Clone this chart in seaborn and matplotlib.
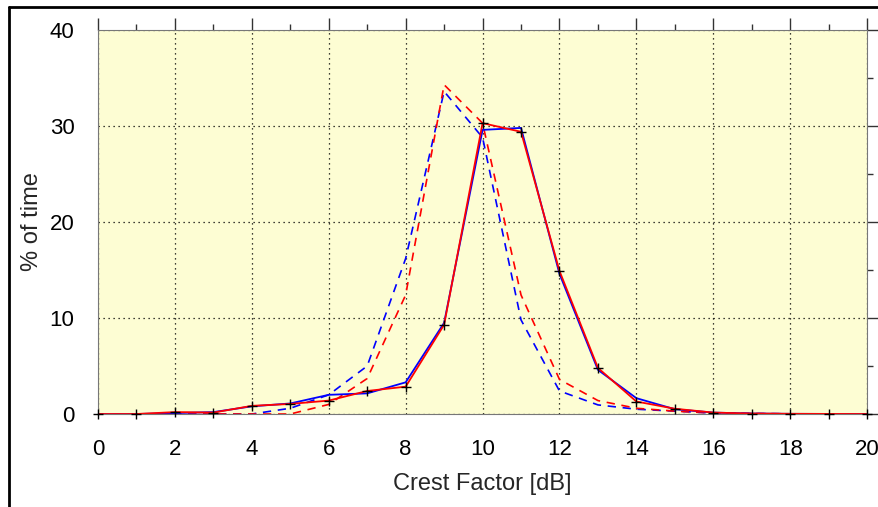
import numpy as np
import pandas as pd
import seaborn as sns
import matplotlib.pyplot as plt
from matplotlib.lines import Line2D
from matplotlib.ticker import MultipleLocator

crest_db = list(range(21))
red_solid = [0, 0, 0.2, 0.15, 0.85, 1.05, 1.4, 2.4, 2.85, 9.3, 30.3, 29.4, 14.9, 4.8, 1.3, 0.55, 0.15, 0.05, 0.02, 0.01, 0]
blue_solid = [0, 0, 0.1, 0.2, 0.8, 1.1, 2.0, 2.15, 3.3, 9.5, 29.6, 29.8, 14.6, 4.6, 1.65, 0.5, 0.15, 0.05, 0.02, 0.01, 0]
red_dashed = [0, 0, 0, 0, 0, 0, 1.0, 3.7, 12.4, 34.3, 30.3, 12.4, 3.6, 1.4, 0.6, 0.3, 0.1, 0.05, 0.02, 0.01, 0]
blue_dashed = [0, 0, 0, 0, 0, 0.6, 2.0, 5.0, 16.2, 33.6, 28.8, 9.8, 2.4, 0.95, 0.5, 0.3, 0.1, 0.05, 0.02, 0.01, 0]

df = pd.DataFrame({"x": crest_db, "red": red_solid, "blue": blue_solid,
                   "red_d": red_dashed, "blue_d": blue_dashed})

sns.set_style("white")
plt.rcParams["font.family"] = ["Liberation Sans", "DejaVu Sans"]

fig = plt.figure(figsize=(8.79, 5.07), dpi=100)
ax = fig.add_axes([0.1115, 0.1834, 0.875, 0.7574])
ax.set_facecolor("#fdfdd3")

sns.lineplot(x="x", y="blue_d", data=df, ax=ax, color="blue", lw=1.2, linestyle=(0, (5, 4)))
sns.lineplot(x="x", y="red_d", data=df, ax=ax, color="red", lw=1.2, linestyle=(0, (5, 4)))
sns.lineplot(x="x", y="blue", data=df, ax=ax, color="blue", lw=1.3)
sns.lineplot(x="x", y="red", data=df, ax=ax, color="red", lw=1.3)
ax.plot(df["x"], df["red"], ls="none", marker="+", color="black", ms=7, mew=1, clip_on=False, zorder=5)

ax.set_xlim(0, 20)
ax.set_ylim(0, 40)
ax.xaxis.set_major_locator(MultipleLocator(2))
ax.xaxis.set_minor_locator(MultipleLocator(1))
ax.yaxis.set_major_locator(MultipleLocator(10))
ax.yaxis.set_minor_locator(MultipleLocator(5))
ax.tick_params(which="both", direction="out", top=True, right=True,
               labeltop=False, labelright=False, colors="#333333", width=1)
ax.tick_params(which="both", labelcolor="black", labelsize=16)
ax.tick_params(which="major", length=9)
ax.tick_params(which="minor", length=4.5)
ax.tick_params(axis="x", which="major", pad=9)
ax.tick_params(axis="y", which="major", pad=8)
ax.grid(True, which="major", color="black", linestyle=(0, (1, 3)), lw=0.9)
for s in ax.spines.values():
    s.set_color("#777777")
    s.set_linewidth(0.8)

ax.set_xlabel("Crest Factor [dB]", fontsize=17, labelpad=9)
ax.set_ylabel("% of time", fontsize=17, labelpad=5)

fig.add_artist(Line2D([0.0105, 1.0], [0.986, 0.986], transform=fig.transFigure, color="black", lw=2))
fig.add_artist(Line2D([0.0105, 0.0105], [0.0, 0.986], transform=fig.transFigure, color="black", lw=2))

plt.savefig("out.png", dpi=100)
plt.close()
